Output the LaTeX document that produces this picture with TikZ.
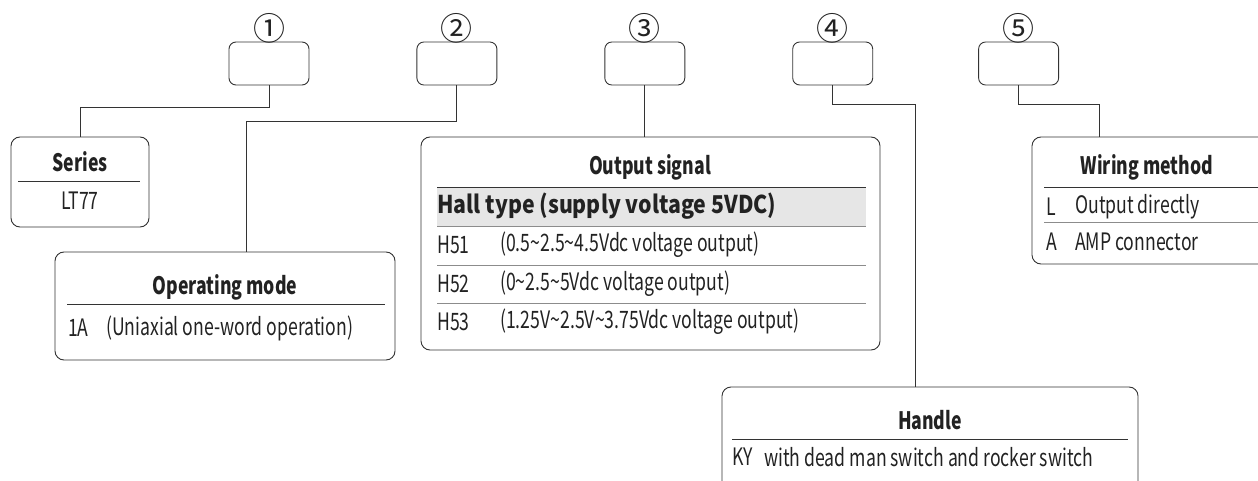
\documentclass[tikz,border=0pt]{standalone}
\usepackage{fontspec}
\setmainfont{Noto Sans CJK SC}[FakeStretch=0.735]
\newfontfamily\circfont{Noto Sans CJK SC}
\newfontfamily\hallfont{Noto Sans CJK SC}[FakeStretch=0.87]
\usetikzlibrary{positioning, calc}
\definecolor{linegray}{HTML}{333333}
\definecolor{rowgray}{HTML}{8C8C8C}
\definecolor{bandgray}{HTML}{E6E6E6}
\definecolor{inkgray}{HTML}{222222}
\tikzset{
	keybox/.style={rectangle, rounded corners=7pt, draw=linegray, line width=0.9pt, minimum width=80pt, minimum height=43pt},
	panel/.style={rectangle, rounded corners=9pt, draw=linegray, line width=0.9pt},
	keynum/.style={font=\circfont\fontsize{32}{34}\selectfont, text=inkgray, inner sep=0pt},
	title/.style={font=\bfseries\fontsize{24}{27}\selectfont, text=inkgray, inner sep=0pt},
	item/.style={font=\fontsize{24}{27}\selectfont, text=inkgray, inner sep=0pt, anchor=west},
	rule/.style={draw=linegray, line width=0.8pt},
	rowrule/.style={draw=rowgray, line width=0.8pt},
	link/.style={draw=linegray, line width=0.9pt}
}
\begin{document}
\begin{tikzpicture}[x=1pt, y=-1pt]
			\useasboundingbox (0,0) rectangle (1258,481);
			\clip (0,0) rectangle (1258,481);
			% code boxes
			\node[keybox] (K1) at (269,63.5) {};
			\node[keybox, right=107pt of K1] (K2) {};
			\node[keybox, right=107pt of K2] (K3) {};
			\node[keybox, right=107pt of K3] (K4) {};
			\node[keybox, right=105pt of K4] (K5) {};
			\node[keynum, yshift=13pt] (N1) at (K1.north) {①};
			\node[keynum, yshift=13pt] (N2) at (K2.north) {②};
			\node[keynum, yshift=13pt] (N3) at (K3.north) {③};
			\node[keynum, yshift=13pt] (N4) at (K4.north) {④};
			\node[keynum, yshift=13pt] (N5) at (K5.north) {⑤};
			% panels
			\node[panel, minimum width=138pt, minimum height=90pt] (Series) at (80,182) {};
			\node[panel, minimum width=340pt, minimum height=108pt] (Mode) at (225,306) {};
			\node[panel, minimum width=459pt, minimum height=213pt] (Output) at (650.5,243.5) {};
			\node[panel, minimum width=416pt, minimum height=140pt] (Handle) at (930,457) {};
			\node[panel, minimum width=236pt, minimum height=127pt] (Wiring) at (1150,200.5) {};
			% series
			\node[title] (SeriesT) at (80,162) {Series};
			\draw[rule] (18,181) -- (140,181);
			\node[item, anchor=center] (SeriesA) at (80,201) {LT77};
			% operating mode
			\node[title] (ModeT) at (225,287) {Operating mode};
			\draw[rule] (67,304) -- (385,304);
			\node[item] (ModeA) at (68,328) {1A};
			\node[item] (ModeAd) at (106,328) {(Uniaxial one-word operation)};
			% output signal
			\fill[bandgray] (437,187) rectangle (866,226);
			\node[title] (OutputT) at (650,167) {Output signal};
			\draw[rule] (437,187) -- (866,187);
			\node[title, font=\hallfont\bfseries\fontsize{24.5}{27}\selectfont, anchor=west] (Hall) at (437,206) {Hall type (supply voltage 5VDC)};
			\draw[rowrule] (437,226) -- (866,226);
			\node[item] (H1) at (437,245) {H51};
			\node[item] (H1d) at (500,245) {(0.5\textasciitilde2.5\textasciitilde4.5Vdc voltage output)};
			\draw[rowrule] (437,265) -- (866,265);
			\node[item] (H2) at (437,284) {H52};
			\node[item] (H2d) at (500,284) {(0\textasciitilde2.5\textasciitilde5Vdc voltage output)};
			\draw[rowrule] (437,303) -- (866,303);
			\node[item] (H3) at (437,322) {H53};
			\node[item] (H3d) at (500,322) {(1.25V\textasciitilde2.5V\textasciitilde3.75Vdc voltage output)};
			% handle
			\node[title] (HandleT) at (930,420) {Handle};
			\draw[rule] (732,439) -- (1128,439);
			\node[item] (KY) at (732,457) {KY};
			\node[item] (KYd) at (764,457) {with dead man switch and rocker switch};
			% wiring method
			\node[title] (WiringT) at (1147,167) {Wiring method};
			\draw[rule] (1044,187) -- (1268,187);
			\node[item] (WL) at (1046,207) {L};
			\node[item] (WLd) at (1075,207) {Output directly};
			\draw[rowrule] (1044,222) -- (1268,222);
			\node[item] (WA) at (1046,242) {A};
			\node[item] (WAd) at (1075,242) {AMP connector};
			% connectors
			\draw[link] (K1.south) -- ++(0,22) -| (Series.north);
			\draw[link] (K2.south) -- ++(0,36) -| ([xshift=21pt]Mode.north);
			\draw[link] (K3.south) -- (K3.south |- Output.north);
			\draw[link] (K4.south) -- ++(0,19) -| ([xshift=-15pt]Handle.north);
			\draw[link] (K5.south) -- ++(0,19) -| ([xshift=-51pt]Wiring.north);
		\end{tikzpicture}
\end{document}
